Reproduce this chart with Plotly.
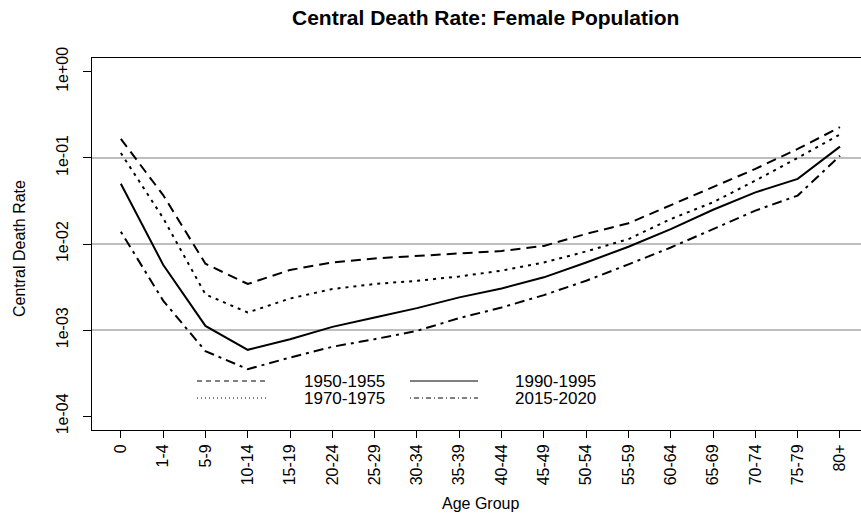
import plotly.graph_objects as go

ages = ["0", "1-4", "5-9", "10-14", "15-19", "20-24", "25-29", "30-34", "35-39",
        "40-44", "45-49", "50-54", "55-59", "60-64", "65-69", "70-74", "75-79", "80+"]

r1950 = [0.166, 0.037, 0.0059, 0.00343, 0.0050, 0.0061, 0.0068, 0.0073, 0.0078,
         0.0083, 0.0095, 0.0131, 0.0174, 0.0284, 0.0455, 0.0745, 0.127, 0.227]
r1970 = [0.114, 0.020, 0.0026, 0.0016, 0.00233, 0.0030, 0.00343, 0.00374, 0.0042,
         0.0049, 0.0061, 0.0082, 0.0114, 0.0195, 0.0305, 0.0545, 0.100, 0.187]
r1990 = [0.050, 0.00575, 0.00112, 0.00059, 0.000785, 0.00109, 0.0014, 0.0018, 0.0024,
         0.00305, 0.0041, 0.0061, 0.0093, 0.0149, 0.025, 0.0398, 0.057, 0.135]
r2015 = [0.0139, 0.0022, 0.00057, 0.000352, 0.00048, 0.00064, 0.000785, 0.00098, 0.00138,
         0.00183, 0.00255, 0.00374, 0.0058, 0.0091, 0.0149, 0.0244, 0.0365, 0.106]

periods = ["1950-1955", "1970-1975", "1990-1995", "2015-2020"]
series = [r1950, r1970, r1990, r2015]
dashes = ["10px,6px", "3px,5px", "solid", "3px,5px,10px,5px"]
legend_dashes = ["5px,4px", "1px,3px", "solid", "1px,3px,5px,3px"]

ytick_vals = [1e-4, 1e-3, 1e-2, 1e-1, 1e0]
ytick_text = ["1e-04", "1e-03", "1e-02", "1e-01", "1e+00"]
grid_vals = [1e-3, 1e-2, 1e-1]

FONT = "Liberation Sans, Arial, Helvetica, sans-serif"
xs = list(range(len(ages)))

fig = go.Figure()
for name, vals, d in zip(periods, series, dashes):
    fig.add_trace(go.Scatter(x=xs, y=vals, mode="lines", name=name,
                             line=dict(color="black", width=2, dash=d),
                             showlegend=False, yaxis="y"))

fig.update_layout(
    width=861, height=517,
    margin=dict(l=92, r=0, t=58, b=87, pad=0),
    paper_bgcolor="white", plot_bgcolor="white",
    font=dict(family=FONT, size=16, color="black"),
    xaxis=dict(range=[-0.682, 17.497], tickmode="array", tickvals=xs, ticktext=ages,
               tickangle=-90, ticks="outside", ticklen=7, tickcolor="black", tickwidth=1,
               ticklabelstandoff=0,
               showgrid=False, zeroline=False, showline=True, linecolor="black",
               linewidth=1, mirror=True, tickfont=dict(size=16)),
    yaxis=dict(type="log", range=[-4.16, 0.16], tickmode="array", tickvals=grid_vals,
               showticklabels=False, ticks="", showgrid=True, gridcolor="#bebebe",
               gridwidth=2, zeroline=False, showline=True, linecolor="black", linewidth=1),
    yaxis2=dict(type="log", range=[-4.16, 0.16], overlaying="y", side="left",
                tickmode="array", tickvals=ytick_vals, ticktext=ytick_text,
                tickangle=-90, ticks="outside", ticklen=8, tickcolor="black",
                ticklabelstandoff=9,
                showgrid=False, zeroline=False, showline=False, tickfont=dict(size=16)),
)

# reference so yaxis2 is drawn
fig.add_trace(go.Scatter(x=[None], y=[None], yaxis="y2", showlegend=False, hoverinfo="skip"))

def px_to_paper_x(px):
    return (px - 92) / 769.0

def py_to_paper_y(py):
    return (430 - py) / 372.0

# title
fig.add_annotation(text="<b>Central Death Rate: Female Population</b>", xref="paper", yref="paper",
                   x=px_to_paper_x(485), y=py_to_paper_y(17), showarrow=False,
                   xanchor="center", yanchor="middle", font=dict(size=21, family=FONT))
# axis titles
fig.add_annotation(text="Central Death Rate", xref="paper", yref="paper",
                   x=px_to_paper_x(19), y=py_to_paper_y(249), textangle=-90, showarrow=False,
                   xanchor="center", yanchor="middle", font=dict(size=16, family=FONT))
fig.add_annotation(text="Age Group", xref="paper", yref="paper",
                   x=px_to_paper_x(480), y=py_to_paper_y(503), showarrow=False,
                   xanchor="center", yanchor="middle", font=dict(size=16, family=FONT))

# manual legend (column-wise like R)
leg_rows = [381, 398]
leg_cols = [(197, 268, 302), (410, 478, 513)]
for i, (name, ld) in enumerate(zip(periods, legend_dashes)):
    col = i // 2
    row = i % 2
    x0, x1, xt = leg_cols[col]
    yy = leg_rows[row]
    fig.add_shape(type="line", xref="paper", yref="paper",
                  x0=px_to_paper_x(x0), x1=px_to_paper_x(x1),
                  y0=py_to_paper_y(yy), y1=py_to_paper_y(yy),
                  line=dict(color="black", width=1, dash=ld))
    fig.add_annotation(text=name, xref="paper", yref="paper",
                       x=px_to_paper_x(xt), y=py_to_paper_y(yy), showarrow=False,
                       xanchor="left", yanchor="middle", font=dict(size=17, family=FONT))

fig.write_html("out.html", config={"displayModeBar": False},
               post_script="document.body.style.margin='0';document.body.style.padding='0';")
